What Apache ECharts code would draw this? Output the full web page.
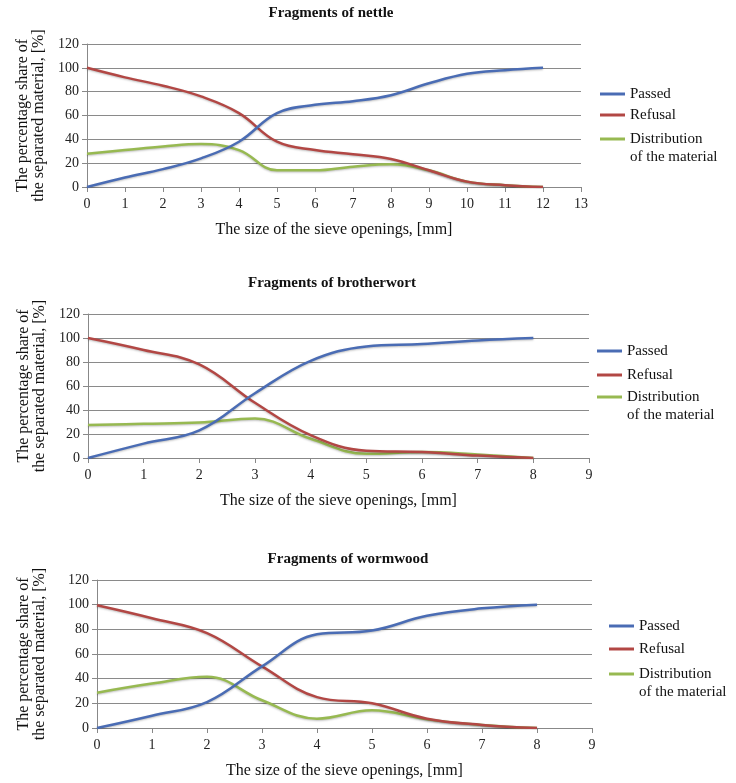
<!DOCTYPE html>
<html>
<head>
<meta charset="utf-8">
<script src="https://cdn.jsdelivr.net/npm/echarts@6/dist/echarts.min.js"></script>
<style>html,body{margin:0;padding:0;background:#fff}#c{width:736px;height:783px}</style>
</head>
<body>
<div id="c"></div>
<script>
// ---- data ----
const titles = ['Fragments of nettle', 'Fragments of brotherwort', 'Fragments of wormwood'];
const seriesNames = ['Passed', 'Refusal', 'Distribution\nof the material'];
const xMax = [13, 9, 9];

const nettleX = [0,1,2,3,4,5,6,7,8,9,10,11,12];
const nettlePassed = [0,8,15,24,38,62,69,72,77,87,95,98,100];
const nettleRefusal = [100,92,85,76,62,38,31,27.5,23.5,14,4.5,1.5,0];
const nettleDistribution = [28,31,34,36,31,14,14,17,19,14,4.5,1.5,0];

const brotherX = [0,1,2,3,4,5,6,7,8];
const brotherPassed = [0,12,23,54,81,93,95,98,100];
const brotherRefusal = [100,90,78,46,19,6,5,2,0];
const brotherDistribution = [27.5,28.5,29.5,33,16,3.5,5,3,0];

const wormX = [0,1,2,3,4,5,6,7,8];
const wormPassed = [0,10,21,50,76,79,91,97,100];
const wormRefusal = [99.5,89,77,50,25,20,7.5,2.5,0];
const wormDistribution = [28.6,36,41.6,22.5,7.6,14.4,7,2.5,0];

const yTicksMax = 120, yInterval = 20;

// ---- layout ----
const grids = [
  {left: 87, top: 44, width: 494, height: 143},
  {left: 88, top: 314, width: 501, height: 144},
  {left: 97, top: 580, width: 495, height: 148}
];
const yNameGaps = [40, 40, 49];
const titleTops = [1, 271, 547];
const titleCenters = [326, 327, 343];
const legendA = [
  {left: 600, top: 85, gap: 3},
  {left: 597, top: 342, gap: 6},
  {left: 609, top: 617, gap: 5}
];
const legendB = [
  {left: 600, top: 112},
  {left: 597, top: 370},
  {left: 609, top: 647}
];
const colors = ['#4a6cb4', '#b24744', '#97b951'];
const font = 'Liberation Serif';

const sets = [
  [nettleX, nettlePassed, nettleRefusal, nettleDistribution],
  [brotherX, brotherPassed, brotherRefusal, brotherDistribution],
  [wormX, wormPassed, wormRefusal, wormDistribution]
];

const legTxt = {fontFamily: font, fontSize: 15, color: '#111', lineHeight: 18};
const option = {
  backgroundColor: '#fff',
  animation: false,
  title: titles.map((t, i) => ({
    text: t, left: titleCenters[i], top: titleTops[i], textAlign: 'center',
    textStyle: {fontFamily: font, fontWeight: 'bold', fontSize: 15, color: '#111'}
  })),
  legend: legendA.map(p => ({
    orient: 'vertical', left: p.left, top: p.top, itemWidth: 25, itemHeight: 3, itemGap: p.gap,
    icon: 'rect', selectedMode: false, padding: 0, textStyle: legTxt,
    data: [seriesNames[0], seriesNames[1]]
  })).concat(legendB.map(p => ({
    orient: 'vertical', left: p.left, top: p.top, itemWidth: 25, itemHeight: 3,
    icon: 'rect', selectedMode: false, padding: 0, textStyle: legTxt,
    // blank first line keeps the line sample level with "Distribution"
    formatter: name => ' \n' + name,
    data: [seriesNames[2]]
  }))),
  grid: grids,
  xAxis: grids.map((g, i) => ({
    gridIndex: i, type: 'value', min: 0, max: xMax[i], interval: 1,
    name: 'The size of the sieve openings, [mm]', nameLocation: 'middle', nameGap: 35,
    nameTextStyle: {fontFamily: font, fontSize: 16, color: '#111'},
    axisLine: {show: true, lineStyle: {color: '#888', width: 1}},
    axisTick: {show: true, length: 5, lineStyle: {color: '#888'}},
    axisLabel: {fontFamily: font, fontSize: 14, color: '#222', margin: 10},
    splitLine: {show: false}
  })),
  yAxis: grids.map((g, i) => ({
    gridIndex: i, type: 'value', min: 0, max: yTicksMax, interval: yInterval,
    name: 'The percentage share of\nthe separated material, [%]', nameLocation: 'middle', nameGap: yNameGaps[i],
    nameTextStyle: {fontFamily: font, fontSize: 16, color: '#111', lineHeight: 16},
    axisLine: {show: true, lineStyle: {color: '#888', width: 1}},
    axisTick: {show: true, length: 5, lineStyle: {color: '#888'}},
    axisLabel: {fontFamily: font, fontSize: 14, color: '#222', margin: 8},
    splitLine: {show: true, lineStyle: {color: '#8a8a8a', width: 1}}
  })),
  series: []
};

sets.forEach((s, i) => {
  for (let k = 0; k < 3; k++) {
    option.series.push({
      type: 'line', name: seriesNames[k], xAxisIndex: i, yAxisIndex: i,
      data: s[0].map((x, j) => [x, s[k + 1][j]]),
      smooth: 0.4, showSymbol: false, symbol: 'none',
      lineStyle: {color: colors[k], width: 2.5, shadowColor: 'rgba(0,0,0,0.25)', shadowBlur: 2, shadowOffsetY: 1},
      itemStyle: {color: colors[k]}, z: 3 - k + 2
    });
  }
});

const chart = echarts.init(document.getElementById('c'), null, {renderer: 'canvas'});
chart.setOption(option);
</script>
</body>
</html>
